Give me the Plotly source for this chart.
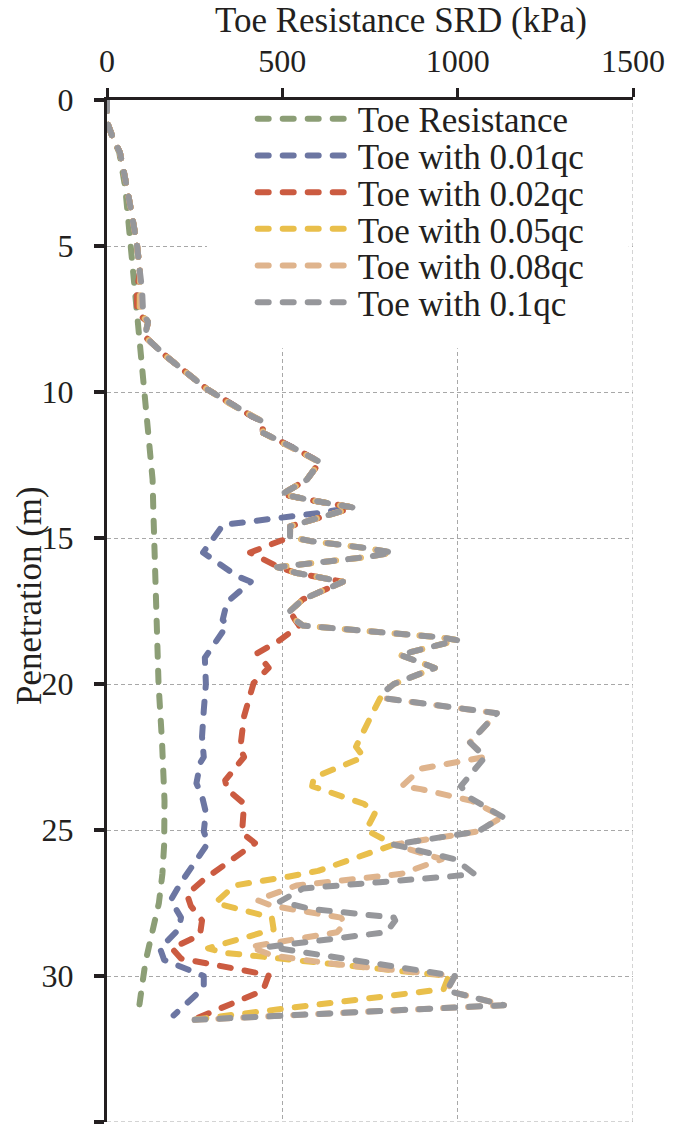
import plotly.graph_objects as go

# ---------------- data ----------------
x_ticks = [0, 500, 1000, 1500]
y_ticks = [0, 5, 10, 15, 20, 25, 30, 35]

# Toe Resistance (green)
green_depth = [0, 0.75, 1.3, 1.8, 3.0, 4.0, 5.0, 6.0, 7.0, 8.0, 9.0, 10.0, 11.0, 12.0,
               13.0, 14.0, 16.0, 18.0, 20.0, 22.0, 24.0, 25.5, 26.5, 27.5, 28.5, 29.5, 30.5, 31.2]
green_vals = [0, 0, 17, 35, 52, 60, 66, 72, 80, 90, 99, 106, 114, 124,
              130, 132, 137, 141, 147, 157, 164, 163, 158, 148, 128, 110, 98, 90]

# common shallow part of all qc curves
shallow_depth = [0, 0.75, 1.3, 1.8, 3.0, 3.9, 4.9, 5.9]
shallow_vals = [0, 0, 17, 37, 57, 71, 85, 94]
kink_depth = [6.5, 7.3]
blue_kink = [86, 88]
red_kink = [85, 86]
yellow_kink = [92, 93]
tan_kink = [95, 96]
gray_kink = [100, 103]
upper_depth = [7.6, 8.1, 8.8, 9.9, 10.4, 10.85, 11.0, 11.4, 11.9, 12.4, 13.0, 13.5, 13.7, 13.95]
upper_vals = [117, 108, 171, 285, 351, 416, 442, 445, 530, 607, 570, 499, 579, 700]

# Toe with 0.1qc (gray) below 14 m
gray_deep_depth = [14.1, 14.5, 14.6, 14.97, 15.1, 15.35, 15.5, 15.65, 15.9, 16.0,
                   16.2, 16.5, 17.1, 17.5, 17.8, 18.0, 18.4, 18.5, 19.0, 19.45,
                   20.0, 20.3, 20.5, 21.0, 22.0, 22.5, 23.5, 23.9, 24.55, 25.05,
                   25.5, 26.0, 26.5, 26.6, 27.0, 27.45, 27.7, 28.0, 28.1, 28.5,
                   29.0, 29.1, 30.0, 30.5, 31.0, 31.5]
gray_deep_vals = [664, 542, 522, 522, 579, 741, 815, 741, 541, 485,
                  541, 673, 559, 522, 536, 559, 950, 1000, 835, 935,
                  818, 787, 797, 1112, 1035, 1078, 1009, 1035, 1128, 1058,
                  818, 992, 1047, 969, 560, 493, 580, 818, 822, 797,
                  461, 515, 992, 969, 1132, 250]

# Toe with 0.01qc (blue) below 14 m
blue_deep_depth = [14.15, 14.55, 15.5, 16.3, 16.5, 17.2, 17.8, 18.0, 19.1, 20.0,
                   20.9, 21.8, 22.5, 22.7, 23.4, 23.85, 24.4, 25.05, 25.45, 26.8,
                   27.4, 28.0, 28.4, 29.05, 29.45, 30.0, 30.4, 31.35]
blue_deep_vals = [600, 331, 274, 370, 410, 342, 330, 342, 279, 282,
                  276, 271, 276, 266, 255, 271, 282, 276, 288, 211,
                  182, 211, 205, 151, 163, 276, 276, 190]

# Toe with 0.02qc (red) below 14 m
red_deep_depth = [14.1, 14.5, 14.6, 15.0, 15.1, 15.5, 15.9, 16.0, 16.2, 16.5,
                  17.1, 17.5, 17.8, 18.0, 18.5, 18.95, 19.45, 19.97, 21.1, 22.2,
                  22.5, 23.3, 23.6, 24.1, 25.1, 25.45, 26.7, 27.2, 27.6, 28.1,
                  28.6, 29.05, 29.4, 29.97, 30.5, 31.45]
red_deep_vals = [664, 542, 522, 522, 493, 408, 470, 490, 541, 673,
                 559, 522, 536, 548, 493, 428, 461, 418, 391, 380,
                 391, 337, 342, 391, 385, 422, 276, 228, 239, 271,
                 265, 185, 211, 461, 445, 255]

# Toe with 0.05qc (yellow) after leaving the gray curve at 20.3 m
yellow_deep_depth = [21.1, 22.15, 22.5, 23.2, 23.5, 24.0, 24.1, 24.4, 25.0, 25.5,
                     26.4, 26.6, 26.9, 27.5, 28.0, 28.4, 29.05, 29.2, 30.0, 30.45, 31.5]
yellow_deep_vals = [753, 710, 732, 590, 585, 710, 732, 765, 739, 818,
                    602, 516, 363, 309, 470, 475, 288, 331, 975, 960, 244]

# Toe with 0.08qc (tan) after leaving the gray curve at 22.5 m
tan_deep_depth = [22.9, 23.5, 23.6, 24.0, 24.55, 25.05, 25.5, 26.0, 26.5, 26.9,
                  27.4, 27.6, 28.0, 28.2, 28.5, 29.0, 29.3, 29.6, 30.0, 30.5, 31.0, 31.5]
tan_deep_vals = [895, 841, 895, 1040, 1128, 1058, 818, 955, 840, 540,
                 428, 472, 667, 679, 656, 408, 472, 656, 992, 969, 1132, 250]

series_names = ["Toe Resistance", "Toe with 0.01qc", "Toe with 0.02qc",
                "Toe with 0.05qc", "Toe with 0.08qc", "Toe with 0.1qc"]
series_colors = ["#8C9E76", "#6C76A2", "#CB5B41", "#E9BF4B", "#DFB48D", "#96979B"]

# ---------------- assemble the series ----------------
top_d = shallow_depth + kink_depth + upper_depth
blue_d = top_d + blue_deep_depth
blue_v = shallow_vals + blue_kink + upper_vals + blue_deep_vals
red_d = top_d + red_deep_depth
red_v = shallow_vals + red_kink + upper_vals + red_deep_vals
yellow_d = top_d + gray_deep_depth[:22] + yellow_deep_depth
yellow_v = shallow_vals + yellow_kink + upper_vals + gray_deep_vals[:22] + yellow_deep_vals
tan_d = top_d + gray_deep_depth[:26] + tan_deep_depth
tan_v = shallow_vals + tan_kink + upper_vals + gray_deep_vals[:26] + tan_deep_vals
gray_d = top_d + gray_deep_depth
gray_v = shallow_vals + gray_kink + upper_vals + gray_deep_vals

all_depth = [green_depth, blue_d, red_d, yellow_d, tan_d, gray_d]
all_vals = [green_vals, blue_v, red_v, yellow_v, tan_v, gray_v]

FONT = "Liberation Serif"
TXT = "#231F20"
GRID = "#A8A8A8"
W, H = 686, 1136
ML, MR, MT, MB = 107, 53, 100, 14
plot_w = W - ML - MR
plot_h = H - MT - MB

fig = go.Figure()
legend_ids = ["legend", "legend2", "legend3", "legend4", "legend5", "legend6"]
for i in range(6):
    fig.add_trace(go.Scatter(
        x=all_vals[i], y=all_depth[i], mode="lines", name=series_names[i],
        line=dict(color=series_colors[i], width=6, dash="11px,14px"),
        legend=legend_ids[i], hoverinfo="skip"))

# one legend row per trace so that row spacing matches the reference
legend_layout = {}
for i, lid in enumerate(legend_ids):
    row_px = 119 + 36.7 * i
    legend_layout[lid] = dict(
        x=0.277, xanchor="left", y=1 - (row_px - MT) / plot_h, yanchor="middle",
        bgcolor="rgba(0,0,0,0)", borderwidth=0, itemwidth=95,
        font=dict(family=FONT, size=35, color=TXT), tracegroupgap=0)

fig.update_layout(
    width=W, height=H, margin=dict(l=ML, r=MR, t=MT, b=MB),
    plot_bgcolor="white", paper_bgcolor="white",
    font=dict(family=FONT, size=32, color=TXT),
    showlegend=True,
    **legend_layout,
)

fig.update_xaxes(
    side="top", range=[0, 1500], tickvals=x_ticks, ticktext=[str(v) for v in x_ticks],
    showgrid=True, gridcolor=GRID, gridwidth=1, griddash="4px,3px",
    showline=True, linecolor=TXT, linewidth=3, zeroline=False,
    ticks="outside", ticklen=9, tickwidth=3, tickcolor=TXT,
    ticklabelstandoff=3, tickfont=dict(family=FONT, size=32, color=TXT))
fig.update_yaxes(
    range=[35, 0], tickvals=y_ticks, ticktext=[str(v) for v in y_ticks],
    showgrid=True, gridcolor=GRID, gridwidth=1, griddash="4px,3px",
    showline=True, linecolor=TXT, linewidth=3, zeroline=False,
    ticks="outside", ticklen=10, tickwidth=4, tickcolor=TXT,
    ticklabelstandoff=14, tickfont=dict(family=FONT, size=32, color=TXT))

# dashed grid lines on the far (right / bottom) edges of the plot frame
fig.add_shape(type="line", xref="x", yref="paper", x0=1500, x1=1500, y0=0, y1=1,
              line=dict(color=GRID, width=1, dash="4px,3px"), layer="below")
fig.add_shape(type="line", xref="paper", yref="y", x0=0, x1=1, y0=35, y1=35,
              line=dict(color=GRID, width=1, dash="4px,3px"), layer="below")

# white legend area hiding the grid (no data lies in this region)
fig.add_shape(type="rect", xref="paper", yref="y", x0=0.19, x1=0.992, y0=0, y1=8.5,
              fillcolor="white", line=dict(width=0), layer="above")

fig.add_annotation(text="Toe Resistance SRD (kPa)", xref="paper", yref="paper",
                   x=(401 - ML) / plot_w, y=1 + (MT - 20) / plot_h,
                   xanchor="center", yanchor="middle", showarrow=False,
                   font=dict(family=FONT, size=35, color=TXT))
fig.add_annotation(text="Penetration (m)", xref="paper", yref="paper",
                   x=(29 - ML) / plot_w, y=1 - (596 - MT) / plot_h,
                   xanchor="center", yanchor="middle", textangle=-90, showarrow=False,
                   font=dict(family=FONT, size=35, color=TXT))

post = ("var s=document.createElement('style');"
        "s.innerHTML='html,body{margin:0;padding:0;}"
        "path.js-line{stroke-linecap:round;stroke-linejoin:round;}';"
        "document.head.appendChild(s);")
fig.write_html("out.html", post_script=post, config={"displayModeBar": False})
